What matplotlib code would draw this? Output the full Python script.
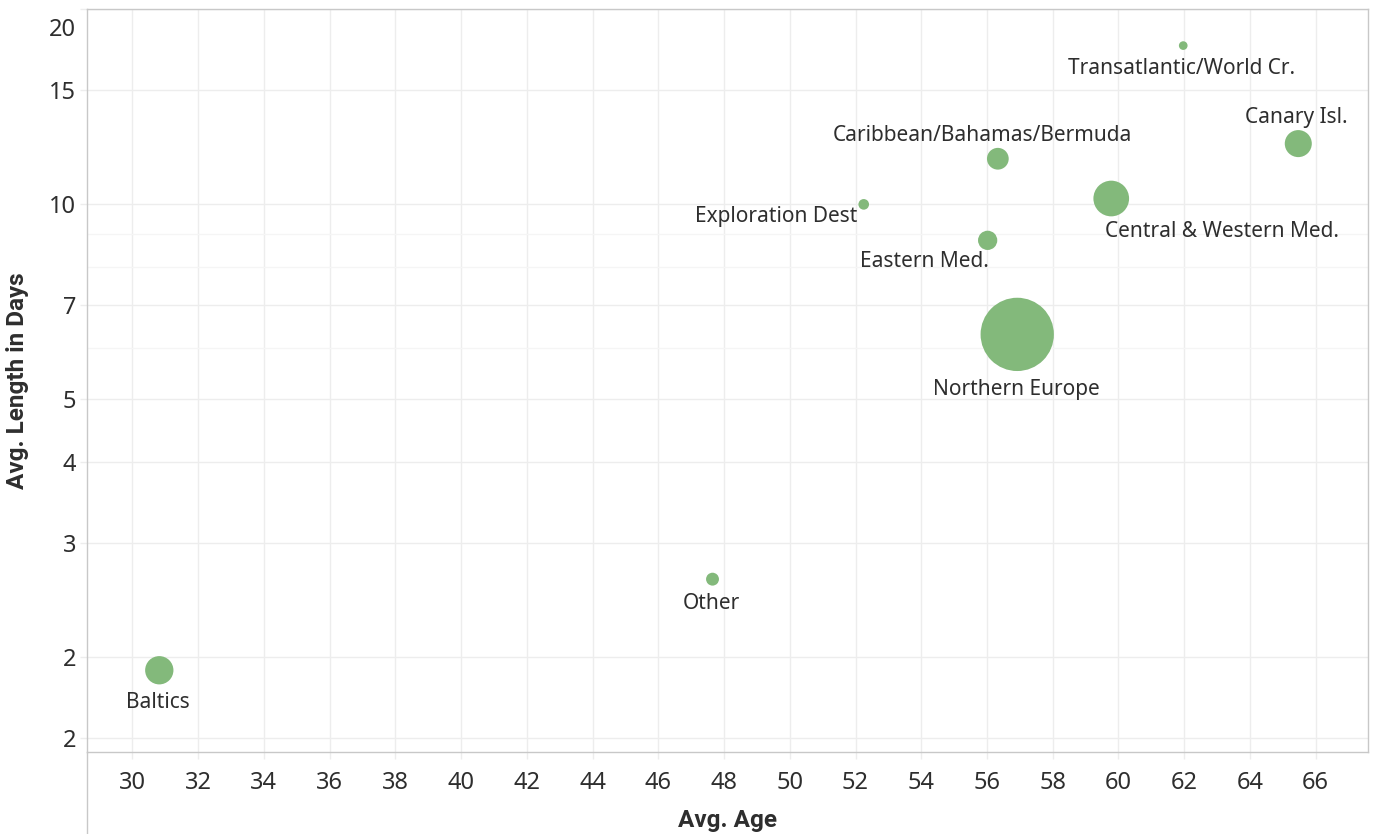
import matplotlib
matplotlib.use('Agg')
import matplotlib.pyplot as plt
from matplotlib.ticker import FixedLocator, FuncFormatter, NullFormatter
from matplotlib.transforms import ScaledTranslation
from matplotlib.lines import Line2D

# data
regions = ["Transatlantic/World Cr.", "Canary Isl.", "Central & Western Med.",
           "Caribbean/Bahamas/Bermuda", "Exploration Dest", "Eastern Med.",
           "Northern Europe", "Other", "Baltics"]
avg_age = [61.97, 65.47, 59.78, 56.33, 52.25, 56.02, 56.92, 47.65, 30.82]
avg_length = [17.58, 12.41, 10.21, 11.76, 10.0, 8.80, 6.30, 2.64, 1.91]
volume = [14, 136, 237, 88, 21, 69, 1000, 31, 149]   # bubble size measure

y_ticks = [1.5, 2, 3, 4, 5, 7, 10, 15, 20]
y_minor = [6, 8, 9]
x_ticks = list(range(30, 67, 2))

# label placement (pixel offsets from bubble centre)
label_pos = {
    "Transatlantic/World Cr.": (-2, -23, "center"),
    "Canary Isl.": (-2, 26, "center"),
    "Central & Western Med.": (-6, -33, "left"),
    "Caribbean/Bahamas/Bermuda": (-15, 23, "center"),
    "Exploration Dest": (-6, -12, "right"),
    "Eastern Med.": (1, -21, "right"),
    "Northern Europe": (-1, -55, "center"),
    "Other": (-1, -24, "center"),
    "Baltics": (-1, -32, "center"),
}

plt.rcParams['font.family'] = ['Noto Sans', 'DejaVu Sans']
grid_c = '#ededed'
border_c = '#c8c8c8'
text_c = '#2e2e2e'

fig = plt.figure(figsize=(13.8, 8.34), dpi=100)
ax = fig.add_axes([0.06326, 0.09832, 0.92826, 0.89053])

sizes = [v * 2.785 for v in volume]
ax.scatter(avg_age, avg_length, s=sizes, color='#83b97b', edgecolors='none', zorder=3)

for name, x, y in zip(regions, avg_age, avg_length):
    dx, dy, ha = label_pos[name]
    ax.annotate(name, xy=(x, y), xytext=(dx, dy), textcoords='offset pixels',
                ha=ha, va='center', fontsize=15, color=text_c, zorder=4)

ax.set_yscale('log')
ax.set_ylim(1.4285, 20)
ax.set_xlim(28.63, 67.6)

ax.yaxis.set_major_locator(FixedLocator(y_ticks))
ax.yaxis.set_minor_locator(FixedLocator(y_minor))
ax.yaxis.set_major_formatter(FuncFormatter(lambda v, p: '%.0f' % v))
ax.yaxis.set_minor_formatter(NullFormatter())
ax.xaxis.set_major_locator(FixedLocator(x_ticks))
ax.xaxis.set_minor_locator(FixedLocator([]))

ax.grid(True, which='major', color=grid_c, linewidth=1.0, zorder=0)
ax.grid(True, which='minor', axis='y', color='#f5f5f5', linewidth=1.0, zorder=0)
ax.set_axisbelow(True)

ax.tick_params(axis='both', which='major', length=5, width=1.0, color=grid_c,
               labelsize=17, labelcolor=text_c)
ax.tick_params(axis='y', which='major', pad=3)
ax.tick_params(axis='x', which='major', pad=9)
ax.tick_params(axis='y', which='minor', length=0)

for sp in ax.spines.values():
    sp.set_color(border_c)
    sp.set_linewidth(1.0)

# keep the top label inside the frame, like the original
fig.canvas.draw()
for t in ax.yaxis.get_major_ticks():
    if abs(t.get_loc() - 20) < 1e-6:
        t.label1.set_transform(t.label1.get_transform() +
                               ScaledTranslation(0, -18 / 100, fig.dpi_scale_trans))

title_font = dict(family=['Roboto', 'DejaVu Sans'], fontsize=17.5, fontweight='bold', color=text_c)
ax.set_xlabel("Avg. Age", va='center', **title_font)
ax.set_ylabel("Avg. Length in Days", va='center', **title_font)
ax.xaxis.set_label_coords(0.5, -68 / 742.7)
ax.yaxis.set_label_coords(-(87.3 - 18) / 1281, 0.5)

# header line under the x axis
fig.add_artist(Line2D([0.06326, 0.06326], [0, 0.09832], color=border_c, linewidth=1.0,
                      transform=fig.transFigure))

fig.savefig('out.png', dpi=100)
